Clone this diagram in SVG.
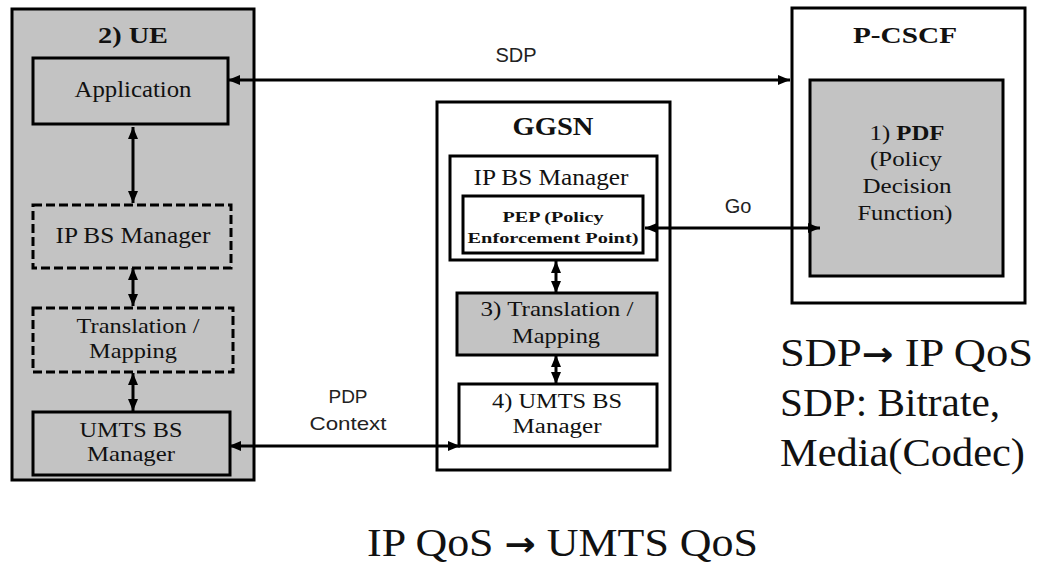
<svg xmlns="http://www.w3.org/2000/svg" width="1037" height="563" viewBox="0 0 1037 563">
  <style>
    .box { stroke: #000; stroke-width: 3; }
    .gray { fill: #c3c3c3; }
    .white { fill: #fff; }
    .dash { stroke-dasharray: 9 4; }
    .serif { font-family: "Times New Roman", "Liberation Serif", serif; fill: #111; text-anchor: middle; }
    .sans { font-family: "Liberation Sans", Arial, sans-serif; fill: #222; text-anchor: middle; }
    .bold { font-weight: bold; }
    .wire { stroke: #000; stroke-width: 3; fill: none; marker-start: url(#head); marker-end: url(#head); }
    .note { font-family: "Times New Roman", "Liberation Serif", serif; fill: #111; font-size: 40px; }
    .arrow-glyph { font-family: "DejaVu Sans", sans-serif; font-weight: bold; }
  </style>
  <defs>
    <marker id="head" viewBox="0 0 12 10" refX="12" refY="5" markerWidth="12" markerHeight="10" markerUnits="userSpaceOnUse" orient="auto-start-reverse">
      <path d="M0,0 L12,5 L0,10 Z" fill="#000"/>
    </marker>
  </defs>

  <rect width="1037" height="563" fill="#fff"/>

  <!-- UE -->
  <g id="ue">
    <rect class="box gray" x="12" y="9" width="242" height="471" stroke-width="3.5"/>
    <text class="serif bold" x="133" y="43" font-size="23" textLength="70" lengthAdjust="spacingAndGlyphs">2) UE</text>
  </g>
  <g id="ue-application">
    <rect class="box gray" x="33" y="58" width="195" height="66"/>
    <text class="serif" x="133" y="97" font-size="23" textLength="117" lengthAdjust="spacingAndGlyphs">Application</text>
  </g>
  <g id="ue-ipbs">
    <rect class="box gray dash" x="33" y="205" width="198" height="63"/>
    <text class="serif" x="133" y="243" font-size="23" textLength="155" lengthAdjust="spacingAndGlyphs">IP BS Manager</text>
  </g>
  <g id="ue-translation">
    <rect class="box gray dash" x="33" y="308" width="200" height="64"/>
    <text class="serif" x="138" y="333" font-size="22" textLength="123" lengthAdjust="spacingAndGlyphs">Translation /</text>
    <text class="serif" x="133" y="358" font-size="22" textLength="88" lengthAdjust="spacingAndGlyphs">Mapping</text>
  </g>
  <g id="ue-umts">
    <rect class="box gray" x="33" y="412" width="197" height="63"/>
    <text class="serif" x="131" y="437" font-size="21" textLength="103" lengthAdjust="spacingAndGlyphs">UMTS BS</text>
    <text class="serif" x="131" y="461" font-size="21" textLength="88" lengthAdjust="spacingAndGlyphs">Manager</text>
  </g>

  <!-- GGSN -->
  <g id="ggsn">
    <rect class="box white" x="437" y="102" width="233" height="368"/>
    <text class="serif bold" x="553" y="135" font-size="25" textLength="81" lengthAdjust="spacingAndGlyphs">GGSN</text>
  </g>
  <g id="ggsn-ipbs">
    <rect class="box white" x="450" y="156" width="207" height="104" stroke-width="4"/>
    <text class="serif" x="551" y="185" font-size="23" textLength="155" lengthAdjust="spacingAndGlyphs">IP BS Manager</text>
  </g>
  <g id="ggsn-pep">
    <rect class="box white" x="463" y="196" width="180" height="57" stroke-width="2.5"/>
    <text class="serif bold" x="553" y="222" font-size="15" textLength="101" lengthAdjust="spacingAndGlyphs">PEP (Policy</text>
    <text class="serif bold" x="553" y="243" font-size="15" textLength="171" lengthAdjust="spacingAndGlyphs">Enforcement Point)</text>
  </g>
  <g id="ggsn-translation">
    <rect class="box gray" x="457" y="293" width="200" height="62"/>
    <text class="serif" x="557" y="316" font-size="21" textLength="153" lengthAdjust="spacingAndGlyphs">3) Translation /</text>
    <text class="serif" x="556" y="343" font-size="21" textLength="88" lengthAdjust="spacingAndGlyphs">Mapping</text>
  </g>
  <g id="ggsn-umts">
    <rect class="box white" x="459" y="384" width="198" height="62"/>
    <text class="serif" x="557" y="408" font-size="20" textLength="130" lengthAdjust="spacingAndGlyphs">4) UMTS BS</text>
    <text class="serif" x="557" y="433" font-size="20" textLength="89" lengthAdjust="spacingAndGlyphs">Manager</text>
  </g>

  <!-- P-CSCF -->
  <g id="pcscf">
    <rect class="box white" x="792" y="8" width="233" height="295" stroke-width="3.5"/>
    <text class="serif bold" x="905" y="43" font-size="24" textLength="104" lengthAdjust="spacingAndGlyphs">P-CSCF</text>
  </g>
  <g id="pdf">
    <rect class="box gray" x="810" y="80" width="193" height="196"/>
    <text class="serif" x="907" y="140" font-size="20" textLength="75" lengthAdjust="spacingAndGlyphs">1) <tspan font-weight="bold">PDF</tspan></text>
    <text class="serif" x="906" y="166" font-size="20" textLength="72" lengthAdjust="spacingAndGlyphs">(Policy</text>
    <text class="serif" x="907" y="193" font-size="20" textLength="89" lengthAdjust="spacingAndGlyphs">Decision</text>
    <text class="serif" x="905" y="220" font-size="20" textLength="95" lengthAdjust="spacingAndGlyphs">Function)</text>
  </g>

  <!-- connectors -->
  <g id="connectors">
    <line class="wire" x1="228" y1="80" x2="790" y2="80"/>
    <line class="wire" x1="645" y1="228" x2="820" y2="228"/>
    <line class="wire" x1="229" y1="446" x2="460" y2="446"/>
    <line class="wire" x1="133" y1="127" x2="133" y2="203"/>
    <line class="wire" x1="133" y1="268" x2="133" y2="306"/>
    <line class="wire" x1="133" y1="373" x2="133" y2="411"/>
    <line class="wire" x1="556" y1="261" x2="556" y2="293"/>
    <line class="wire" x1="556" y1="355" x2="556" y2="384"/>
    <text class="sans" x="516" y="62" font-size="20">SDP</text>
    <text class="sans" x="738" y="213" font-size="20">Go</text>
    <text class="sans" x="348" y="403" font-size="19">PDP</text>
    <text class="sans" x="348" y="430" font-size="19" textLength="77" lengthAdjust="spacingAndGlyphs">Context</text>
  </g>

  <!-- notes -->
  <g id="notes">
    <text class="note" x="780" y="366" textLength="253" lengthAdjust="spacingAndGlyphs">SDP<tspan class="arrow-glyph" font-size="34">→</tspan> IP QoS</text>
    <text class="note" x="780" y="416" textLength="220" lengthAdjust="spacingAndGlyphs">SDP: Bitrate,</text>
    <text class="note" x="780" y="466" textLength="245" lengthAdjust="spacingAndGlyphs">Media(Codec)</text>
    <text class="note" x="367" y="556" textLength="391" lengthAdjust="spacingAndGlyphs">IP QoS <tspan class="arrow-glyph" font-size="34">→</tspan> UMTS QoS</text>
  </g>
</svg>
